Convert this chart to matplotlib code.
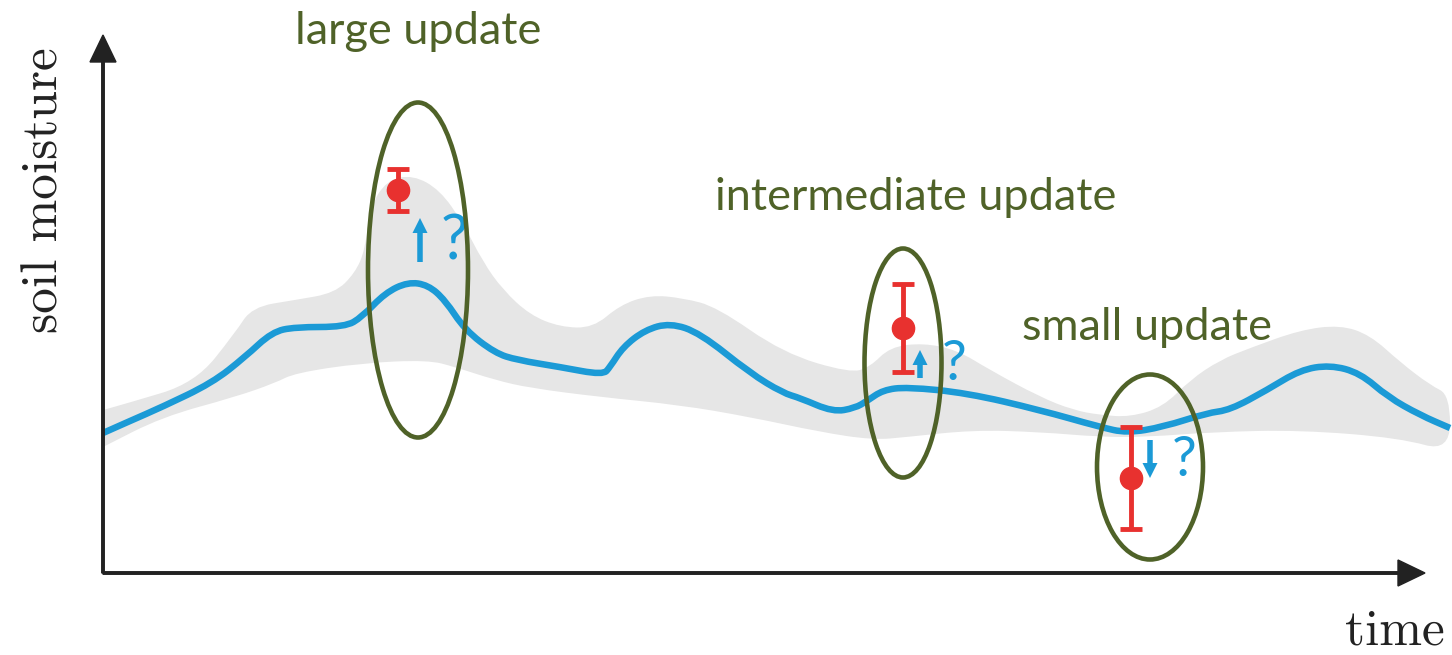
import matplotlib
matplotlib.use("Agg")
import matplotlib.pyplot as plt
from matplotlib.patches import Ellipse, PathPatch
from matplotlib.path import Path
import numpy as np

# model estimate (time, soil moisture)
mean_t = [0, 27, 59, 109, 142, 169, 192, 242, 259, 282, 305, 325, 342, 362, 392, 414,
          457, 500, 507, 520, 542, 567, 597, 647, 680, 697, 730, 752, 764, 780, 804,
          864, 937, 997, 1024, 1060, 1104, 1127, 1164, 1197, 1227, 1257, 1285, 1317, 1347]
mean_m = [140, 152, 166, 190, 216, 241, 246, 246, 256, 280, 291, 288, 273, 243, 220, 213,
          206, 198, 206, 226, 243, 250, 240, 200, 180, 175, 161, 165, 172, 183, 186,
          180, 163, 146, 140, 146, 160, 163, 183, 203, 208, 200, 176, 158, 145]

# uncertainty band
upper_t = [0, 25, 92, 132, 149, 192, 232, 252, 262, 267, 284, 310, 337, 360, 380, 400,
           427, 457, 490, 517, 547, 580, 614, 680, 747, 767, 787, 820, 854, 887, 937,
           970, 997, 1027, 1060, 1087, 1117, 1147, 1197, 1237, 1267, 1297, 1327, 1347]
upper_m = [163, 170, 190, 240, 266, 273, 280, 300, 323, 366, 393, 398, 383, 350, 311, 283,
           258, 246, 245, 268, 278, 275, 266, 220, 200, 206, 226, 230, 223, 203, 176,
           163, 158, 156, 166, 193, 213, 225, 243, 248, 238, 211, 188, 178]
lower_t = [0, 59, 132, 172, 192, 259, 325, 352, 392, 427, 497, 577, 647, 717, 770, 804,
           870, 937, 997, 1044, 1110, 1197, 1297, 1347]
lower_m = [126, 156, 176, 190, 200, 210, 213, 206, 193, 185, 176, 168, 156, 141, 133, 136,
           143, 141, 136, 136, 141, 143, 135, 121]

# observations with error
obs_t = [295, 800, 1028]
obs_m = [383, 245, 95]
obs_err = [21, 44, 51]

# update direction arrows (start, end)
arrow_t = [317, 817, 1047]
arrow_start = [311, 195, 133]
arrow_end = [355, 223, 95]
qmark_t = [351, 851, 1081]
qmark_m = [331, 209, 112]
qmark_size = [44, 40, 40]

# highlighted regions
ell_t = [315, 800, 1047]
ell_m = [303, 210, 106]
ell_w = [100, 77, 106]
ell_h = [335, 229, 185]
labels = ["large update", "intermediate update", "small update"]
label_t = [315, 813, 1044]
label_m = [541, 376, 246]

BLUE = "#1b9ad6"
RED = "#e8312f"
GREEN = "#4f6228"
GREY = "#e6e6e6"


def smooth_path(xs, ys):
    # quadratic curves through segment midpoints, control points at the vertices
    pts = np.column_stack([xs, ys]).astype(float)
    mids = (pts[:-1] + pts[1:]) / 2
    verts = [pts[0], mids[0]]
    codes = [Path.MOVETO, Path.LINETO]
    for i in range(1, len(pts) - 1):
        verts += [pts[i], mids[i]]
        codes += [Path.CURVE3, Path.CURVE3]
    verts.append(pts[-1])
    codes.append(Path.LINETO)
    return Path(verts, codes)


fig = plt.figure(figsize=(14.52, 6.55), dpi=100)
ax = fig.add_axes([0, 0, 1, 1])
ax.set_xlim(-103, 1349)
ax.set_ylim(-82, 573)
ax.axis("off")

band = smooth_path(np.r_[upper_t, lower_t[::-1]], np.r_[upper_m, lower_m[::-1]])
ax.add_patch(PathPatch(band, fc=GREY, lw=0, zorder=1))
ax.add_patch(PathPatch(smooth_path(mean_t, mean_m), fill=False, ec=BLUE, lw=4.7,
                       joinstyle="round", capstyle="butt", zorder=2))

# axes arrows
ax.arrow(0, 0, 0, 538, width=2.5, head_width=26, head_length=27,
         length_includes_head=True, color="#222222", zorder=3)
ax.arrow(0, 0, 1322, 0, width=2.5, head_width=26, head_length=27,
         length_includes_head=True, color="#222222", zorder=3)
ax.text(-58, 383, "soil moisture", rotation=90, ha="center", va="center",
        family="cmr10", fontsize=37, color="#222222")
ax.text(1292, -59, "time", ha="center", va="center",
        family="cmr10", fontsize=37, color="#222222")

ax.errorbar(obs_t, obs_m, yerr=obs_err, fmt="o", color=RED, ms=16,
            elinewidth=3.5, capsize=8, capthick=3.5, zorder=5)

for t, m0, m1 in zip(arrow_t, arrow_start, arrow_end):
    ax.arrow(t, m0, 0, m1 - m0, width=5.5, head_width=15, head_length=15,
             length_includes_head=True, color=BLUE, lw=0, zorder=5)
for t, m, s in zip(qmark_t, qmark_m, qmark_size):
    ax.text(t, m, "?", ha="center", va="center", fontsize=s,
            family="Lato", color=BLUE, zorder=5)

for t, m, w, h in zip(ell_t, ell_m, ell_w, ell_h):
    ax.add_patch(Ellipse((t, m), w, h, fill=False, ec=GREEN, lw=3.3, zorder=6))
for lab, t, m in zip(labels, label_t, label_m):
    ax.text(t, m, lab, ha="center", va="center", fontsize=32.5,
            family="Lato", color=GREEN)

fig.savefig("out.png", dpi=100)
